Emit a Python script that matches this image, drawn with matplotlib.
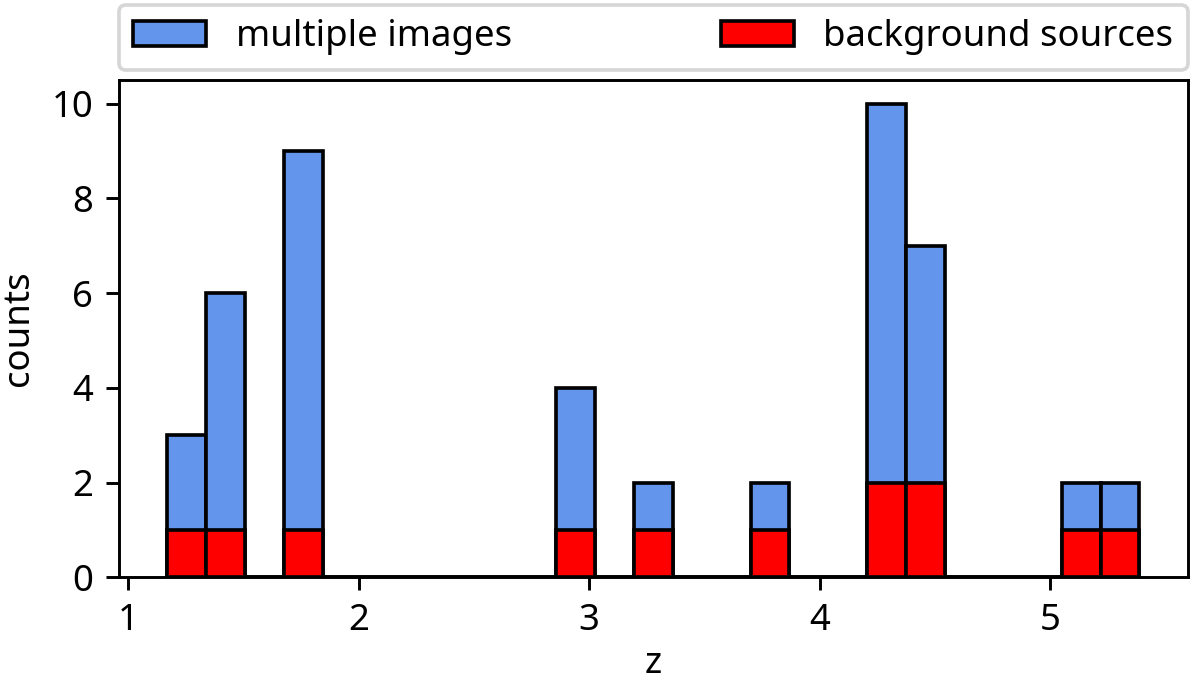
import numpy as np
import matplotlib
matplotlib.use('Agg')
import matplotlib.pyplot as plt

plt.rcParams['font.family'] = ['Noto Sans', 'DejaVu Sans']

# histogram bins (25 equal bins between min and max z)
z_min, z_max = 1.171, 5.386
n_bins = 25
multiple_images = [3, 6, 0, 9, 0, 0, 0, 0, 0, 0, 4, 0, 2, 0, 0, 2, 0, 0, 10, 7, 0, 0, 0, 2, 2]
background_sources = [1, 1, 0, 1, 0, 0, 0, 0, 0, 0, 1, 0, 1, 0, 0, 1, 0, 0, 2, 2, 0, 0, 0, 1, 1]

edges = np.linspace(z_min, z_max, n_bins + 1)
centers = 0.5 * (edges[:-1] + edges[1:])

dpi = 263
fig, ax = plt.subplots(figsize=(1200 / dpi, 684 / dpi), dpi=dpi)
fig.subplots_adjust(left=0.099, right=0.99, bottom=0.156, top=0.883)

ax.hist(centers, bins=edges, weights=multiple_images, color='cornflowerblue',
        edgecolor='black', label='multiple images')
ax.hist(centers, bins=edges, weights=background_sources, color='red',
        edgecolor='black', label='background sources')

ax.set_xlabel('z', labelpad=2)
ax.set_ylabel('counts')
ax.legend(bbox_to_anchor=(0, 1.02, 1, 0.2), loc='lower left', mode='expand',
          ncol=2, borderaxespad=0)

plt.savefig('out.png', dpi=dpi)
